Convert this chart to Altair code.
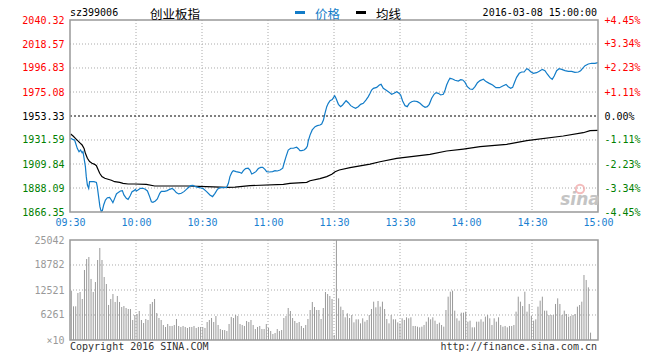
import altair as alt
import pandas as pd

# ---------------- data ----------------
PREV_CLOSE = 1953.33
PRICE_TICKS = [1866.35, 1888.09, 1909.84, 1931.59, 1953.33, 1975.08, 1996.83, 2018.57, 2040.32]
PCT_TICKS = [-4.45, -3.34, -2.23, -1.11, 0.0, 1.11, 2.23, 3.34, 4.45]
VOL_TICKS = [0, 6261, 12521, 18782, 25042]
TIME_TICKS = [0, 30, 60, 90, 120, 150, 180, 210, 240]
TIME_LABELS = ["09:30", "10:00", "10:30", "11:00", "11:30", "13:30", "14:00", "14:30", "15:00"]

PRICE_MIN = [0.3, 1.2, 2.1, 3.3, 4.1, 4.8, 5.5, 5.9, 6.4, 7.0, 7.4, 7.9, 8.5, 8.9, 10.9, 12.0, 12.4, 13.0,
             13.6, 14.2, 14.7, 15.3, 16.1, 17.0, 18.0, 18.8, 19.5, 20.3, 21.1, 21.8, 22.9, 23.8, 24.5, 25.6,
             26.4, 27.3, 28.2, 29.1, 29.7, 30.2, 30.9, 32.0, 33.2, 34.2, 35.2, 36.2, 37.0, 37.7, 38.8, 39.7,
             40.8, 41.5, 43.0, 44.2, 45.3, 46.4, 47.3, 48.3, 49.4, 50.6, 51.8, 52.9, 53.6, 54.8, 55.9, 57.1,
             58.2, 59.2, 60.5, 62.1, 63.6, 64.8, 65.9, 67.0, 68.2, 69.7, 71.2, 72.0, 72.7, 73.5, 74.2, 75.5,
             77.0, 78.0, 78.8, 79.8, 81.0, 81.8, 82.6, 83.3, 84.5, 85.6, 86.7, 87.6, 88.6, 89.4, 90.6, 92.1,
             93.2, 94.2, 95.5, 96.7, 97.3, 98.2, 99.2, 100.3, 101.5, 103.0, 103.8, 104.5, 105.3, 106.4, 107.3,
             107.9, 108.3, 109.1, 110.1, 111.4, 112.4, 113.6, 114.4, 115.2, 115.9, 116.7, 117.4, 118.2, 119.2,
             120.3, 120.9, 122.0, 123.0, 123.9, 125.5, 126.5, 127.6, 128.8, 129.8, 131.0, 132.1, 133.3, 134.5,
             135.6, 136.4, 137.1, 137.9, 139.4, 140.6, 141.4, 142.4, 143.6, 144.7, 146.2, 147.3, 148.5, 149.6,
             150.3, 151.2, 152.3, 153.3, 154.2, 155.3, 156.4, 157.9, 159.1, 160.3, 161.4, 162.4, 163.3, 164.4,
             165.5, 166.4, 167.4, 168.5, 169.7, 170.5, 171.2, 172.0, 172.7, 173.9, 175.0, 176.5, 177.6, 178.5,
             179.5, 180.6, 181.8, 183.0, 184.1, 185.2, 186.4, 187.9, 189.1, 190.6, 192.1, 193.6, 195.2, 196.7,
             198.2, 199.2, 200.3, 201.2, 202.0, 203.0, 204.2, 205.3, 206.4, 207.6, 208.3, 209.4, 210.6, 212.1,
             213.3, 214.7, 215.9, 216.9, 218.2, 219.2, 220.1, 221.2, 222.3, 223.5, 225.0, 226.5, 228.0, 229.5,
             231.1, 232.1, 233.0, 234.1, 235.6, 237.1, 238.6, 240.0]
PRICE_VAL = [1933.1, 1932.2, 1931.6, 1924.0, 1921.0, 1922.5, 1920.1, 1921.0, 1915.0, 1907.4, 1898.4, 1890.8,
             1887.8, 1893.8, 1893.8, 1893.2, 1889.3, 1880.3, 1871.2, 1866.7, 1867.6, 1872.7, 1877.2, 1879.3,
             1879.6, 1877.2, 1874.8, 1878.7, 1882.7, 1883.9, 1885.4, 1885.7, 1881.8, 1878.7, 1877.8, 1880.9,
             1884.8, 1885.7, 1886.9, 1885.4, 1886.3, 1887.8, 1887.8, 1886.9, 1885.4, 1880.3, 1875.7, 1875.1,
             1876.3, 1878.1, 1883.3, 1885.1, 1885.1, 1885.7, 1886.9, 1887.8, 1886.3, 1883.9, 1882.7, 1883.3,
             1884.8, 1886.9, 1888.1, 1890.2, 1890.5, 1889.3, 1888.7, 1888.3, 1887.5, 1884.8, 1881.8, 1880.3,
             1883.3, 1886.9, 1888.4, 1888.4, 1888.7, 1892.3, 1898.4, 1902.0, 1903.8, 1902.9, 1902.3, 1901.4,
             1903.8, 1905.7, 1906.0, 1904.4, 1900.8, 1901.4, 1902.9, 1905.7, 1906.8, 1906.8, 1905.0, 1902.9,
             1902.6, 1902.9, 1903.8, 1903.5, 1904.4, 1906.0, 1910.5, 1916.5, 1922.5, 1924.1, 1924.1, 1925.0,
             1923.7, 1921.9, 1921.9, 1922.5, 1924.1, 1926.2, 1930.7, 1936.0, 1940.7, 1943.7, 1944.6, 1945.2,
             1946.1, 1949.7, 1955.8, 1961.8, 1964.8, 1967.2, 1968.2, 1971.8, 1969.4, 1963.9, 1961.8, 1963.3,
             1967.2, 1965.4, 1962.7, 1961.2, 1960.3, 1961.8, 1963.9, 1964.8, 1967.8, 1970.9, 1973.9, 1976.9,
             1978.4, 1979.3, 1981.4, 1982.0, 1978.4, 1976.9, 1975.4, 1973.0, 1973.9, 1975.4, 1973.9, 1972.4,
             1966.9, 1962.7, 1961.8, 1964.8, 1966.3, 1966.9, 1966.3, 1964.8, 1962.7, 1961.2, 1961.8, 1963.9,
             1969.4, 1973.0, 1974.5, 1973.9, 1972.4, 1973.0, 1976.9, 1981.4, 1985.0, 1987.5, 1986.9, 1985.7,
             1985.0, 1986.3, 1986.0, 1984.0, 1979.9, 1977.8, 1977.5, 1979.9, 1983.5, 1985.4, 1986.6, 1984.5,
             1982.9, 1981.4, 1979.0, 1979.0, 1980.5, 1982.0, 1979.9, 1978.4, 1979.3, 1983.5, 1988.4, 1992.0,
             1993.2, 1993.2, 1996.2, 1995.6, 1993.5, 1992.0, 1992.6, 1993.8, 1995.6, 1994.4, 1991.4, 1988.1,
             1986.6, 1989.6, 1994.4, 1996.2, 1995.6, 1994.4, 1993.8, 1993.8, 1992.9, 1993.2, 1994.4, 1996.5,
             1998.9, 2000.5, 2001.1, 2001.1, 2001.7]

AVG_MIN = [0.3, 1.4, 2.9, 4.4, 5.5, 6.4, 7.0, 7.9, 8.9, 10.0, 11.2, 12.0, 12.7, 13.5, 14.5, 15.8, 17.3, 18.8,
           20.3, 22.6, 24.1, 26.4, 29.4, 34.7, 38.5, 44.5, 53.6, 62.0, 71.2, 75.0, 81.8, 97.0, 100.0, 107.6,
           109.1, 113.6, 116.7, 119.0, 120.5, 122.4, 127.3, 136.4, 140.9, 148.5, 163.6, 171.2, 178.8, 186.4,
           198.5, 207.6, 224.2, 233.3, 236.4, 240.0]
AVG_VAL = [1937.0, 1935.2, 1932.2, 1929.2, 1927.1, 1924.0, 1919.5, 1915.0, 1912.0, 1910.5, 1909.5, 1908.3,
           1905.0, 1901.4, 1898.4, 1896.9, 1896.0, 1895.1, 1893.8, 1893.2, 1892.3, 1891.7, 1891.7, 1891.4,
           1889.9, 1889.9, 1889.9, 1889.3, 1888.7, 1888.9, 1890.2, 1891.4, 1892.3, 1893.2, 1894.7, 1896.6,
           1898.4, 1900.5, 1902.9, 1904.4, 1906.5, 1909.8, 1911.9, 1915.0, 1918.6, 1921.6, 1923.4, 1925.5,
           1927.7, 1931.0, 1935.2, 1938.2, 1940.0, 1940.3]

VOL_MORNING = [12350, 8430, 8430, 11770, 12020, 10270, 17530, 20280, 20780, 15280,
               12020, 14520, 20030, 23040, 20030, 15780, 14020, 8770, 10270, 11520,
               9520, 11020, 9520, 8260, 8510, 8010, 7760, 7760, 5010, 6260,
               6510, 7260, 5010, 4260, 5260, 5010, 9010, 9520, 10270, 6760,
               5510, 5010, 3760, 3260, 4010, 3510, 3510, 3760, 5260, 3510,
               3260, 3510, 3260, 3010, 3260, 3260, 3510, 3010, 3260, 3260,
               3260,
               3010, 4510, 5010, 5510, 4510, 6010, 3760, 2750, 2500, 2500,
               2250, 4010, 5760, 5510, 6260, 6010, 4010, 3760, 3510, 4760,
               4510, 5010, 3760, 2750, 3260, 3510, 2750, 2750, 4010, 3010,
               2250, 1500, 1750, 2750, 2250, 2500, 5510, 6010, 8010, 7260,
               5510, 4760, 4260, 4510, 3510, 3010, 3760, 5260, 7510, 9520,
               8260, 7510, 7510, 5260, 8010, 12020, 11520, 11020, 10270, 1250]
VOL_OPEN_PM = [25042]
VOL_AFTERNOON = [10430, 8350, 7510, 5680, 6680, 5510, 6260, 4420, 5180, 5180,
                 4170, 5430, 4590, 5010, 6260, 7760, 9600, 8180, 9770, 8350,
                 9600, 7760, 5260, 4170, 6260, 5180, 5180, 4420, 4170, 5430,
                 5010, 5680, 5430, 5680, 3510, 3510, 3340, 3170, 3340, 3760,
                 4590, 5680, 5180, 5680, 4840, 4010, 4340, 3760, 3340, 7510,
                 10850, 12100, 12350, 7350, 5430, 4840, 6850, 6850, 7100, 4590,
                 4840, 3170, 3170, 4590, 4590, 5180, 4590, 5850, 6260, 5430,
                 3760, 5430, 4590, 5680, 3760, 3340, 3510, 3170, 3510, 3510,
                 3760, 7100, 10850, 9600, 8510, 12100, 7100, 9020, 6010, 4840,
                 5180, 8350, 9850, 10850, 7350, 7350, 6260, 6260, 6260, 9020,
                 10430, 9020, 6260, 7350, 6510, 5850, 6010, 6260, 6510, 8350,
                 8760, 9600, 16280, 15030, 13190, 1840]

# ---------------- styling ----------------
MONO = "DejaVu Sans Mono"
CJK = "Noto Sans CJK SC"
BLUE = "#127cc8"
TIME_BLUE = "#1a80d0"
RED = "#ff0000"
GREEN = "#008000"
GRID = "#aaaaaa"
FRAME = "#999999"
VOLC = "#999999"

W, H = 528, 320
P_TOP, P_BOT = PRICE_TICKS[-1], PRICE_TICKS[0]
XS = alt.Scale(domain=[TIME_TICKS[0], TIME_TICKS[-1]], nice=False, zero=False)
PY = alt.Scale(domain=[P_BOT, P_TOP], range=[192, 0], nice=False, zero=False)
PCTY = alt.Scale(domain=[PCT_TICKS[0], PCT_TICKS[-1]], range=[192, 0], nice=False, zero=False)
VY = alt.Scale(domain=[VOL_TICKS[0], VOL_TICKS[-1]], range=[320, 220], nice=False, zero=False)

price_df = pd.DataFrame({"m": PRICE_MIN, "price": PRICE_VAL})
avg_df = pd.DataFrame({"m": AVG_MIN, "avg": AVG_VAL})
vols = VOL_MORNING + VOL_OPEN_PM + VOL_AFTERNOON
n_slots = 241
vol_df = pd.DataFrame({"t": [i * 240 / n_slots + 0.6 for i in range(len(vols))],
                       "vol": vols, "base": [0] * len(vols)})

inner_t = TIME_TICKS[1:-1]
vg_p = pd.DataFrame({"m": inner_t, "top": P_TOP, "bot": P_BOT})
vg_v = pd.DataFrame({"m": inner_t, "top": VOL_TICKS[-1], "bot": VOL_TICKS[0]})
hg_p = pd.DataFrame({"lvl": [v for v in PRICE_TICKS[1:-1] if v != PREV_CLOSE],
                     "x0": TIME_TICKS[0], "x1": TIME_TICKS[-1]})
zero_df = pd.DataFrame({"lvl": [PREV_CLOSE], "x0": [TIME_TICKS[0]], "x1": [TIME_TICKS[-1]]})
hg_v = pd.DataFrame({"lvl": VOL_TICKS[1:-1], "x0": TIME_TICKS[0], "x1": TIME_TICKS[-1]})
frame_p = pd.DataFrame({"x0": [TIME_TICKS[0]], "x1": [TIME_TICKS[-1]], "top": [P_TOP], "bot": [P_BOT]})
frame_v = pd.DataFrame({"x0": [TIME_TICKS[0]], "x1": [TIME_TICKS[-1]], "top": [VOL_TICKS[-1]], "bot": [VOL_TICKS[0]]})
pct_df = pd.DataFrame({"pct": PCT_TICKS})

def xq(field, axis=None):
    return alt.X(field, type="quantitative", scale=XS, axis=axis)

common_axis = dict(domain=False, ticks=False, grid=False, title=None, labelFont=MONO,
                   labelFontSize=10, labelFlush=False, labelOverlap=False)

vgrid_p = alt.Chart(vg_p).mark_rule(color=GRID, strokeDash=[1, 2], strokeWidth=1).encode(
    x=xq("m"), y=alt.Y("top:Q", scale=PY, axis=None), y2="bot:Q")
vgrid_v = alt.Chart(vg_v).mark_rule(color=GRID, strokeDash=[1, 2], strokeWidth=1).encode(
    x=xq("m"), y=alt.Y("top:Q", scale=VY, axis=None), y2="bot:Q")
hgrid_p = alt.Chart(hg_p).mark_rule(color=GRID, strokeDash=[1, 2], strokeWidth=1).encode(
    x=xq("x0"), x2="x1", y=alt.Y("lvl:Q", scale=PY, axis=None))
hgrid_v = alt.Chart(hg_v).mark_rule(color=GRID, strokeDash=[1, 2], strokeWidth=1).encode(
    x=xq("x0"), x2="x1", y=alt.Y("lvl:Q", scale=VY, axis=None))
zero_line = alt.Chart(zero_df).mark_rule(color="#000000", strokeDash=[2, 2], strokeWidth=1).encode(
    x=xq("x0"), x2="x1", y=alt.Y("lvl:Q", scale=PY, axis=None))

vol_axis = alt.Axis(orient="left", values=VOL_TICKS, labelColor="#999999", labelPadding=6,
                    labelExpr="datum.value == 0 ? '\u00d710' : format(datum.value, 'd')", **common_axis)
vol_bars = alt.Chart(vol_df).mark_rule(color=VOLC, strokeWidth=1).encode(
    x=xq("t"), y=alt.Y("vol:Q", scale=VY, axis=vol_axis), y2="base:Q")

time_expr = "[" + ",".join("'%s'" % s for s in TIME_LABELS) + "][round(datum.value / 30)]"
x_axis = alt.Axis(orient="bottom", values=TIME_TICKS, labelExpr=time_expr, labelColor=TIME_BLUE,
                  labelPadding=5, offset=-(H - 192), **common_axis)
price_axis = alt.Axis(orient="left", values=PRICE_TICKS, format=".2f", labelPadding=6,
                      labelColor={"condition": [
                          {"test": "datum.value > %s" % (PREV_CLOSE + 0.001), "value": RED},
                          {"test": "datum.value < %s" % (PREV_CLOSE - 0.001), "value": GREEN}],
                          "value": "#000000"},
                      **common_axis)
price_line = alt.Chart(price_df).mark_line(color=BLUE, strokeWidth=1.2).encode(
    x=xq("m", axis=x_axis), y=alt.Y("price:Q", scale=PY, axis=price_axis))
avg_line = alt.Chart(avg_df).mark_line(color="#000000", strokeWidth=1.2).encode(
    x=xq("m"), y=alt.Y("avg:Q", scale=PY, axis=None))

pct_axis = alt.Axis(orient="right", values=PCT_TICKS, labelPadding=6,
                    labelExpr="(datum.value > 0 ? '+' : (datum.value < 0 ? '-' : '')) + format(abs(datum.value), '.2f') + '%'",
                    labelColor={"condition": [
                        {"test": "datum.value > 0.001", "value": RED},
                        {"test": "datum.value < -0.001", "value": GREEN}],
                        "value": "#000000"},
                    **common_axis)
pct_layer = alt.Chart(pct_df).mark_point(opacity=0).encode(
    y=alt.Y("pct:Q", scale=PCTY, axis=pct_axis))

frame_price = alt.Chart(frame_p).mark_rect(fillOpacity=0, stroke=FRAME, strokeWidth=1.5).encode(
    x=xq("x0"), x2="x1", y=alt.Y("top:Q", scale=PY, axis=None), y2="bot:Q")
frame_vol = alt.Chart(frame_v).mark_rect(fillOpacity=0, stroke=FRAME, strokeWidth=1.5).encode(
    x=xq("x0"), x2="x1", y=alt.Y("top:Q", scale=VY, axis=None), y2="bot:Q")

one = alt.Data(values=[{}])

def label(text, x, y, align="left", font=MONO, size=10, color="#000000", **kw):
    return alt.Chart(one).mark_text(text=text, align=align, baseline="middle", font=font,
                                    fontSize=size, color=color, **kw).encode(
        x=alt.value(x), y=alt.value(y))

header = [
    label("sz399006", 0, -7),
    label("创业板指", 80, -5.5, font=CJK, size=12.5),
    alt.Chart(one).mark_rule(color=BLUE, strokeWidth=3).encode(
        x=alt.value(225), x2=alt.value(235), y=alt.value(-7.5)),
    label("价格", 245, -5.5, font=CJK, size=12.5, color=BLUE),
    alt.Chart(one).mark_rule(color="#000000", strokeWidth=3).encode(
        x=alt.value(286), x2=alt.value(296), y=alt.value(-7.5)),
    label("均线", 306, -5.5, font=CJK, size=12.5),
    label("2016-03-08 15:00:00", 527, -7, align="right"),
    label("Copyright 2016 SINA.COM", 0, 326.5, color="#333333"),
    label("http://finance.sina.com.cn", 527, 326.5, align="right", color="#333333"),
    label("sina", 510, 180, align="center", font="DejaVu Sans", size=17, color="#c4c4c4",
          fontStyle="italic", fontWeight="bold"),
    alt.Chart(one).mark_point(shape="circle", size=70, filled=False, color="#f0a0a0", strokeWidth=2).encode(
        x=alt.value(510), y=alt.value(169)),
]

chart = alt.layer(
    vgrid_p, vgrid_v, hgrid_p, hgrid_v, zero_line, vol_bars, avg_line, price_line, pct_layer,
    frame_price, frame_vol, *header
).resolve_scale(x="independent", y="independent").resolve_axis(
    x="independent", y="independent"
).properties(
    width=W, height=H,
    autosize=alt.AutoSizeParams(type="none"),
    padding={"left": 62, "top": 12, "right": 46, "bottom": 12},
    background="#ffffff",
).configure_view(stroke=None)

chart.save("out.html", embed_options={"renderer": "svg", "actions": False})
